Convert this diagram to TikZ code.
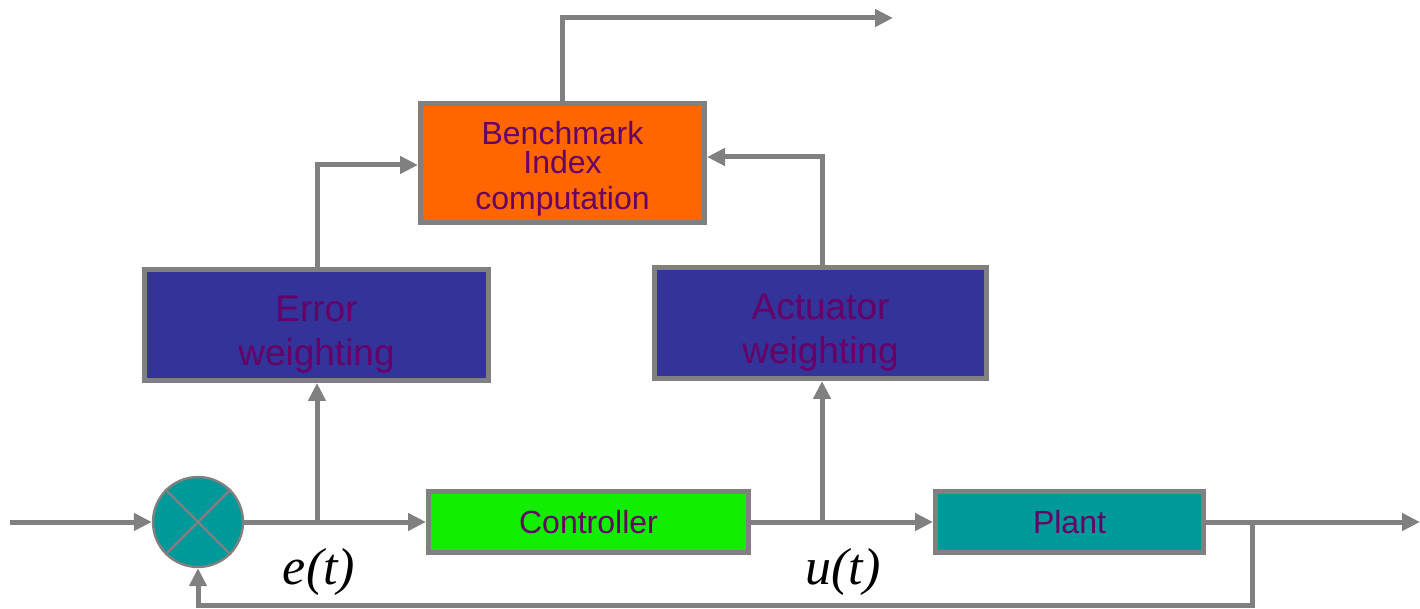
\documentclass[tikz,border=0pt]{standalone}
\usepackage{fontspec}
\setmainfont{Liberation Sans}
\newfontfamily\timesfont{Liberation Serif}
\usetikzlibrary{arrows.meta}
\definecolor{wire}{HTML}{808080}
\definecolor{txt}{HTML}{660066}
\definecolor{benchfill}{HTML}{FF6600}
\definecolor{weightfill}{HTML}{333399}
\definecolor{ctrlfill}{HTML}{11EE00}
\definecolor{plantfill}{HTML}{009999}
\tikzset{
  blockbox/.style={draw=wire, line width=2.5pt, text=txt, align=center, inner sep=0pt},
  wireline/.style={draw=wire, line width=2.5pt},
  arrowline/.style={wireline, -{Triangle[length=9pt,width=8.5pt]}},
  sig/.style={font=\timesfont\itshape\fontsize{26}{30}\selectfont, text=black},
}
% struts that lower a multi-line label slightly inside its box
\newcommand{\lowerstrut}{\rule{0pt}{22pt}}
\newcommand{\benchstrut}{\rule{0pt}{17.5pt}}
\begin{document}
\begin{tikzpicture}[x=0.5pt, y=-0.5pt]
\useasboundingbox (0,0) rectangle (1420,609);

% blocks
\node[blockbox, fill=benchfill, minimum width=142pt, minimum height=59.5pt,
      font=\fontsize{16}{19.2}\selectfont] (bench) at (562.5,163)
      {\benchstrut Benchmark\\[-4.6pt]Index\\[-1.2pt]computation};
\node[blockbox, fill=weightfill, minimum width=172pt, minimum height=55.5pt,
      font=\fontsize{18.5}{22}\selectfont] (errw) at (316.5,325) {\lowerstrut Error\\weighting};
\node[blockbox, fill=weightfill, minimum width=166pt, minimum height=55.5pt,
      font=\fontsize{18.5}{22}\selectfont] (actw) at (820.5,323) {\lowerstrut Actuator\\weighting};
\node[blockbox, fill=ctrlfill, minimum width=160pt, minimum height=30.5pt,
      font=\fontsize{16}{19.2}\selectfont] (ctrl) at (588.5,522) {Controller};
\node[blockbox, fill=plantfill, minimum width=134pt, minimum height=30.5pt,
      font=\fontsize{16}{19.2}\selectfont] (plant) at (1069.5,522) {Plant};

% summing junction
\node[circle, draw=wire, line width=1.2pt, fill=plantfill, minimum size=45pt, inner sep=0pt]
      (sum) at (198,522) {};
\draw[wire, line width=1.2pt] (sum.45) -- (sum.225) (sum.135) -- (sum.315);

% branch points and free ends
\coordinate (inp) at (10,522);
\coordinate (ebr) at (317,522);
\coordinate (ubr) at (822,522);
\coordinate (ybr) at (1252,522);
\coordinate (yout) at (1420,522);
\coordinate (jout) at (893,18);

% connectors
\draw[arrowline] (inp) -- (sum.west);
\draw[arrowline] (sum.east) -- (ctrl.west);
\draw[arrowline] (ebr) -- (ebr |- errw.south);
\draw[arrowline] (errw.north -| ebr) |- (bench.west |- 0,165);
\draw[arrowline] (ctrl.east) -- (plant.west);
\draw[arrowline] (ubr) -- (ubr |- actw.south);
\draw[arrowline] (actw.north -| ubr) |- (bench.east |- 0,157);
\draw[arrowline] (bench.north -| 562,0) |- (jout);
\draw[arrowline] (plant.east) -- (yout);
\draw[arrowline] (ybr) -- (1252,605) -| (sum.south);

% signal labels
\node[sig] (elab) at (319,572) {e(t)};
\node[sig] (ulab) at (843,572) {u(t)};
\end{tikzpicture}
\end{document}
